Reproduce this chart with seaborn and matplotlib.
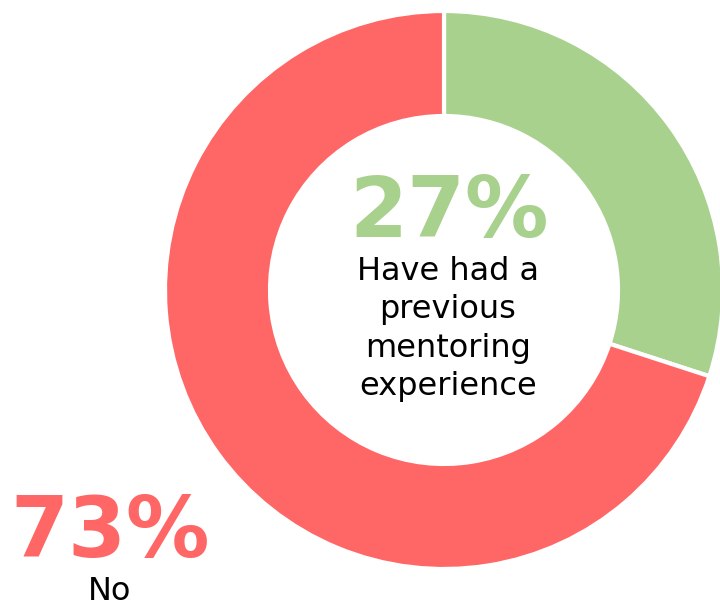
import matplotlib
matplotlib.use("Agg")
import matplotlib.pyplot as plt
import seaborn as sns

categories = ["Have had a previous mentoring experience", "No"]
slice_values = [30, 70]
label_texts = ["27%", "73%"]
colors = ["#A9D18E", "#FF6666"]

sns.set_style("white")
plt.rcParams['font.family'] = ['DejaVu Sans']

W, H = 720, 605
fig = plt.figure(figsize=(7.2, 6.05), dpi=100)
ax = fig.add_axes([0, 0, 1, 1])

cx, cy = 444, H - 290
ax.pie(slice_values, colors=colors, startangle=90, counterclock=False,
       center=(cx, cy), radius=279,
       wedgeprops=dict(width=105, edgecolor="white", linewidth=3),
       frame=True)
ax.set_xlim(0, W)
ax.set_ylim(0, H)
ax.axis("off")

ax.text(449, H - 213, label_texts[0], color=colors[0], fontsize=60,
        fontweight="bold", ha="center", va="center")
ax.text(448, H - 329, "Have had a\nprevious\nmentoring\nexperience", color="black",
        fontsize=23, ha="center", va="center", linespacing=1.3)
ax.text(110, H - 533, label_texts[1], color=colors[1], fontsize=60,
        fontweight="bold", ha="center", va="center")
ax.text(110, H - 591, categories[1], color="black", fontsize=23,
        ha="center", va="center")

fig.savefig("out.png", dpi=100)
